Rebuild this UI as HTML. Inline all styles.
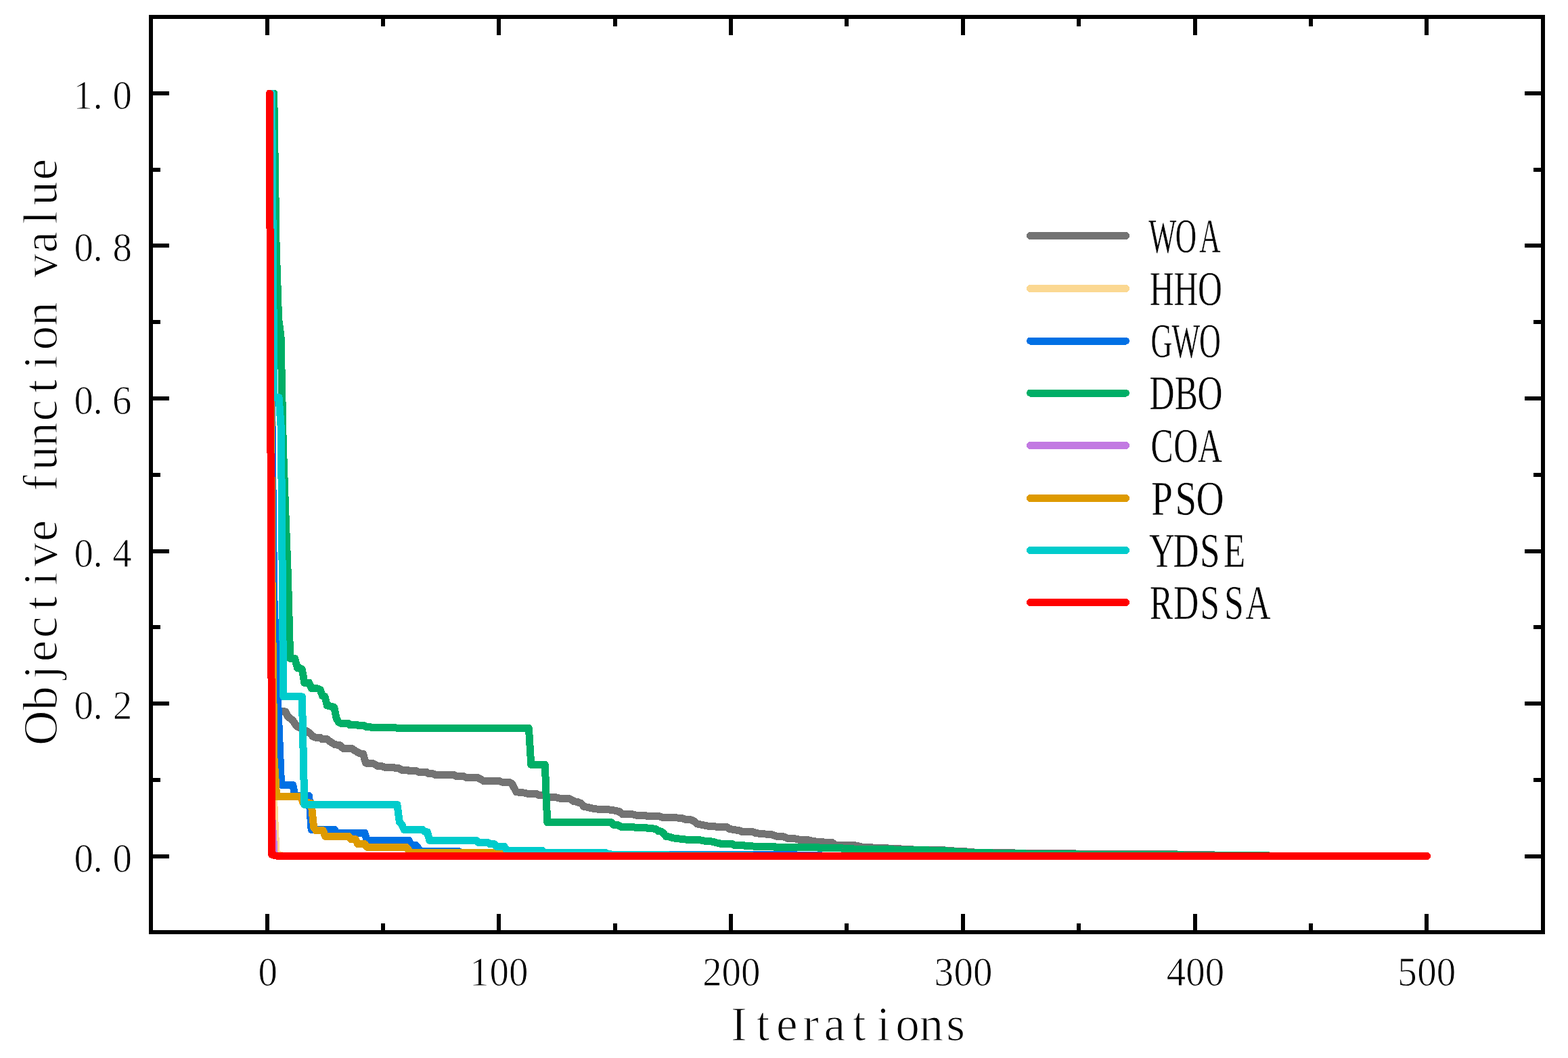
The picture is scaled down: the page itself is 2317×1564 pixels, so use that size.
<!DOCTYPE html>
<html lang="en"><head><meta charset="utf-8"><title>Convergence curves</title>
<style>html,body{margin:0;padding:0;background:#fff;overflow:hidden}svg{display:block}text{font-family:"Liberation Serif","Noto Serif CJK SC",serif;fill:#000}</style></head><body>
<svg width="2317" height="1564" viewBox="0 0 2317 1564">
<rect x="0" y="0" width="2317" height="1564" fill="#fff"/>
<g fill="none" stroke-width="11" stroke-linejoin="round" stroke-linecap="round" shape-rendering="crispEdges">
<polyline points="398.5,141 401.9,1049 405.3,1050.5 415.6,1051.4 421.5,1051.8 425.5,1059.5 429,1062 433.5,1065.9 437,1071.6 440,1074.5 447.1,1077.8 453.9,1080.9 459,1085 462.2,1088.6 466,1090.2 470,1090.6 473.5,1090.6 476,1092.7 483.6,1092.7 487.5,1096.1 494.9,1100.6 501.9,1101.6 507.5,1106.6 519.7,1106.6 527.5,1111.4 532.5,1114 536.5,1114.3 540.5,1128 544,1128.7 551.6,1128.7 559.4,1132.9 564.8,1132.9 569.5,1134.7 582.7,1134.7 584.5,1135.8 589.7,1135.8 594.3,1138.7 603.6,1138.7 605.2,1139.8 615.3,1139.8 620,1141.6 630.8,1141.6 633.2,1143.6 639.4,1143.6 644,1145.6 671.4,1145.8 675.3,1147.9 685.7,1147.9 689.6,1149.7 706.4,1149.7 715.5,1154.9 738.8,1154.9 741.4,1156.1 751.7,1156.1 756.3,1158.1 763,1170.8 775,1172.1 781.5,1173.8 793.2,1173.8 797,1175.7 802.2,1175.7 813.2,1178.8 821.6,1178.8 829.4,1180.7 841.5,1180.7 844,1182 847.5,1184.6 853,1185.4 859,1187.8 862.8,1192.3 869.5,1193.6 876.5,1195.3 886.6,1196.6 899.6,1196.9 907.3,1197.9 915,1199.7 919.6,1203.6 935.8,1204 942.3,1205.7 955.2,1205.9 957.2,1206.8 974.7,1206.8 979.8,1208.5 999.3,1208.8 1008.3,1209.8 1013.5,1211.4 1021.3,1212 1025.2,1213.7 1030.3,1218 1036.8,1219.3 1043.3,1220.6 1049.8,1221.7 1060,1222.1 1074.4,1222.8 1078.2,1225.4 1086,1226.7 1093.8,1228 1096.4,1229.6 1113.2,1229.9 1116.4,1231.4 1124.9,1232.7 1140,1233.5 1147.8,1236.4 1157.5,1236.8 1164.6,1239.6 1175,1239.9 1181.4,1241.3 1193,1241.5 1200.9,1243.5 1212.5,1244.8 1229.3,1245.4 1235.2,1249.6 1263,1249.6 1274.7,1252.3 1287.6,1252.6 1289,1253.6 1312.2,1253.8 1313.5,1254.8 1329,1254.8 1340,1255.8 1396.4,1257 1412,1258.2 1428.7,1259 1440,1260 1500,1261 1590,1262 1740,1263 1876,1265.5 2108.5,1265.5" stroke="#737373"/>
<polyline points="398.5,141 401.9,600 404.7,1185 408,1261.5 411.5,1263 415,1264.5 418.4,1265.5 2108.5,1265.5" stroke="#FBD892"/>
<polyline points="398.5,141 401.3,564 404.7,880 408.5,980 412.1,1075 415.6,1160.4 432.7,1160.4 436.1,1176.6 456.7,1176.6 460.1,1226.5 494.4,1226.5 497.8,1231.4 538.9,1231.4 542.3,1242.4 604,1242.4 607.5,1249.3 614.3,1249.4 617.7,1253.5 621.2,1258.4 678,1258.4 681,1260.9 895,1260.9 899,1263.3 910,1263.9 985,1263.9 988,1263.5 1175,1263.5 1178,1264.3 1212,1264.3 1215,1265.5 2108.5,1265.5" stroke="#0070E4"/>
<polyline points="400.5,138 404.7,138 408.1,364 411.6,471 415,497 418.4,661 421.9,759.5 425.3,848 428.7,973.4 435.6,973.4 439.5,987.4 443,987.4 446.4,989.5 449.8,1009.3 456.7,1009.3 460.1,1017.4 466.5,1017.4 469.8,1018 473.2,1019.5 476.6,1029 480,1029.7 483.4,1043 487,1043.8 490.3,1044.5 493.7,1045.5 497.1,1062 500.6,1068 504,1069.4 515,1069.5 516.5,1071.6 528.5,1071.6 530,1072.7 538,1072.7 542,1074.8 548,1074.8 550,1075.8 585,1075.8 587,1076.5 781.4,1076.5 784.8,1130.5 805.3,1130.5 808.7,1215.6 903.4,1215.6 906.8,1219.5 913.8,1219.8 917.7,1222.5 935.8,1222.5 939.7,1223.7 955.2,1223.7 957.8,1224.7 965.6,1225 970.1,1226 972.7,1228.6 976.6,1229 980.5,1231.8 984.4,1236.8 988.9,1237 993.4,1238.6 999.9,1239.6 1007,1240.3 1017.4,1241.5 1034.2,1241.8 1042,1243.2 1052.4,1244.1 1060.1,1246.1 1066.6,1247.6 1082.1,1247.8 1086,1249.6 1099,1249.7 1102.9,1250.9 1113.2,1251 1115.8,1251.6 1144.5,1251.6 1145.5,1252.6 1208.6,1252.6 1210.6,1253.5 1243.6,1253.5 1245.5,1254.5 1259.8,1254.5 1261.7,1255.4 1318.7,1255.4 1320,1256.4 1370.5,1256.4 1371.8,1257.5 1395.7,1257.5 1404,1258.6 1428.7,1259.7 1430,1260.6 1465,1260.7 1467,1261.7 1514,1261.7 1516,1262.6 1593,1262.6 1595,1263.7 1747,1263.7 1749,1264.7 1874,1264.7 1876,1265.5 2108.5,1265.5" stroke="#00AE66"/>
<polyline points="398.5,141 401.9,1210 405.3,1263.5 412.1,1265.5 2108.5,1265.5" stroke="#C27AE2"/>
<polyline points="398.5,141 401.5,815 404.9,1119 408.7,1177.4 444.5,1177.4 448,1186.8 456.7,1186.8 460.1,1187.5 463.6,1223 467,1227.6 477.3,1227.6 480.7,1236.4 515,1236.4 518.4,1240.7 525.3,1240.7 528.7,1247.6 539,1247.6 542.4,1252.3 600.6,1252.3 604,1257 607.5,1260.5 800,1260.5 810,1265.5 2108.5,1265.5" stroke="#DE9A00"/>
<polyline points="400.5,138 401.6,138 405,587.6 408.7,587.6 412.1,587.6 415.4,634 418.7,1029.8 446.4,1029.8 449.8,1189.5 586.9,1189.5 590.3,1215 593.7,1219 597.2,1226.5 624.5,1226.5 628,1229.5 631.4,1230 634.8,1242.2 703.6,1242.2 706.7,1245.4 720.7,1245.4 723.3,1247.4 730,1247.4 733.6,1251.3 745,1251.3 749.2,1257.3 801.5,1257.3 804.6,1260.5 895,1260.5 899,1262.8 910,1263.3 987,1263.6 990,1264.3 1110,1264.3 1113,1265.5 2108.5,1265.5" stroke="#00CCCC"/>
<polyline points="398.4,138 401.8,1263.2 405.3,1264.6 408.7,1265.1 412.1,1265.5 2108.5,1265.5" stroke="#FF0000"/>
</g>
<g fill="#000" shape-rendering="crispEdges">
<rect x="220" y="22" width="2063" height="6"/>
<rect x="220" y="1375" width="2063" height="6"/>
<rect x="220" y="22" width="6" height="1359"/>
<rect x="2277" y="22" width="6" height="1359"/>
<rect x="392" y="28" width="6" height="24"/>
<rect x="392" y="1351" width="6" height="24"/>
<rect x="563" y="28" width="6" height="11"/>
<rect x="563" y="1365" width="6" height="10"/>
<rect x="734" y="28" width="6" height="24"/>
<rect x="734" y="1351" width="6" height="24"/>
<rect x="906" y="28" width="6" height="11"/>
<rect x="906" y="1365" width="6" height="10"/>
<rect x="1077" y="28" width="6" height="24"/>
<rect x="1077" y="1351" width="6" height="24"/>
<rect x="1248" y="28" width="6" height="11"/>
<rect x="1248" y="1365" width="6" height="10"/>
<rect x="1420" y="28" width="6" height="24"/>
<rect x="1420" y="1351" width="6" height="24"/>
<rect x="1591" y="28" width="6" height="11"/>
<rect x="1591" y="1365" width="6" height="10"/>
<rect x="1763" y="28" width="6" height="24"/>
<rect x="1763" y="1351" width="6" height="24"/>
<rect x="1934" y="28" width="6" height="11"/>
<rect x="1934" y="1365" width="6" height="10"/>
<rect x="2105" y="28" width="6" height="24"/>
<rect x="2105" y="1351" width="6" height="24"/>
<rect x="226" y="1263" width="24" height="6"/>
<rect x="2253" y="1263" width="24" height="6"/>
<rect x="226" y="1150" width="11" height="6"/>
<rect x="2266" y="1150" width="11" height="6"/>
<rect x="226" y="1037" width="24" height="6"/>
<rect x="2253" y="1037" width="24" height="6"/>
<rect x="226" y="924" width="11" height="6"/>
<rect x="2266" y="924" width="11" height="6"/>
<rect x="226" y="812" width="24" height="6"/>
<rect x="2253" y="812" width="24" height="6"/>
<rect x="226" y="699" width="11" height="6"/>
<rect x="2266" y="699" width="11" height="6"/>
<rect x="226" y="586" width="24" height="6"/>
<rect x="2253" y="586" width="24" height="6"/>
<rect x="226" y="473" width="11" height="6"/>
<rect x="2266" y="473" width="11" height="6"/>
<rect x="226" y="360" width="24" height="6"/>
<rect x="2253" y="360" width="24" height="6"/>
<rect x="226" y="248" width="11" height="6"/>
<rect x="2266" y="248" width="11" height="6"/>
<rect x="226" y="135" width="24" height="6"/>
<rect x="2253" y="135" width="24" height="6"/>
</g>
<g fill="none" stroke-width="11" stroke-linecap="round" shape-rendering="crispEdges">
<line x1="1522.5" y1="348.5" x2="1663.5" y2="348.5" stroke="#737373"/>
<line x1="1522.5" y1="426.5" x2="1663.5" y2="426.5" stroke="#FBD892"/>
<line x1="1522.5" y1="504" x2="1663.5" y2="504" stroke="#0070E4"/>
<line x1="1522.5" y1="581" x2="1663.5" y2="581" stroke="#00AE66"/>
<line x1="1522.5" y1="658.5" x2="1663.5" y2="658.5" stroke="#C27AE2"/>
<line x1="1522.5" y1="736.5" x2="1663.5" y2="736.5" stroke="#DE9A00"/>
<line x1="1522.5" y1="813.5" x2="1663.5" y2="813.5" stroke="#00CCCC"/>
<line x1="1522.5" y1="890.5" x2="1663.5" y2="890.5" stroke="#FF0000"/>
</g>
<g>
<text transform="translate(109.4,1288.6) scale(1,1.065)" x="0 28 57" y="0" font-size="57" stroke="#fff" stroke-width="0.9" vector-effect="non-scaling-stroke">0.0</text>
<text transform="translate(109.4,1062.6) scale(1,1.065)" x="0 28 57.3" y="0" font-size="57" stroke="#fff" stroke-width="0.9" vector-effect="non-scaling-stroke">0.2</text>
<text transform="translate(109.4,837.6) scale(1,1.065)" x="0 28 56.9" y="0" font-size="57" stroke="#fff" stroke-width="0.9" vector-effect="non-scaling-stroke">0.4</text>
<text transform="translate(109.4,611.6) scale(1,1.065)" x="0 28 56.6" y="0" font-size="57" stroke="#fff" stroke-width="0.9" vector-effect="non-scaling-stroke">0.6</text>
<text transform="translate(109.4,385.6) scale(1,1.065)" x="0 28 57" y="0" font-size="57" stroke="#fff" stroke-width="0.9" vector-effect="non-scaling-stroke">0.8</text>
<text transform="translate(108.6,160.6) scale(1,1.065)" x="0 28.8 57.8" y="0" font-size="57" stroke="#fff" stroke-width="0.9" vector-effect="non-scaling-stroke">1.0</text>
<text transform="translate(381.4,1457.1) scale(1,1.065)" x="0" y="0" font-size="57" stroke="#fff" stroke-width="0.9" vector-effect="non-scaling-stroke">0</text>
<text transform="translate(694.1,1457.1) scale(1,1.065)" x="0 29.3 57.8" y="0" font-size="57" stroke="#fff" stroke-width="0.9" vector-effect="non-scaling-stroke">100</text>
<text transform="translate(1038.2,1457.1) scale(1,1.065)" x="0 28.2 56.7" y="0" font-size="57" stroke="#fff" stroke-width="0.9" vector-effect="non-scaling-stroke">200</text>
<text transform="translate(1380.6,1457.1) scale(1,1.065)" x="0 28.8 57.3" y="0" font-size="57" stroke="#fff" stroke-width="0.9" vector-effect="non-scaling-stroke">300</text>
<text transform="translate(1723.7,1457.1) scale(1,1.065)" x="0 28.6 57.1" y="0" font-size="57" stroke="#fff" stroke-width="0.9" vector-effect="non-scaling-stroke">400</text>
<text transform="translate(2065.3,1457.1) scale(1,1.065)" x="0 29 57.5" y="0" font-size="57" stroke="#fff" stroke-width="0.9" vector-effect="non-scaling-stroke">500</text>
<text transform="translate(1079.9,1538) scale(1,1)" x="0 37.5 67.1 106.4 137.7 179.9 215.5 243.3 278.6 318.3" y="0" font-size="71.2" stroke="#fff" stroke-width="1.2" vector-effect="non-scaling-stroke">Iterations</text>
<text transform="translate(84,1101.9) rotate(-90) scale(1,1)" x="0 51.9 98.1 123.6 159 200.7 236.3 264.1 301.6 344.2 375.8 406.6 441.8 479.4 521.1 556.7 584.5 619.8 664.6 691.3 728.1 770.4 798.2 835.6" y="0" font-size="71.2" stroke="#fff" stroke-width="1.2" vector-effect="non-scaling-stroke">Objective function value</text>
<text transform="translate(1697.3,372.7) scale(0.61,1)" x="0 64.6 122.9" y="0" font-size="71.2" stroke="#fff" stroke-width="0.4" vector-effect="non-scaling-stroke">WOA</text>
<text transform="translate(1698.8,450.7) scale(0.7,1)" x="0 50.9 101.7" y="0" font-size="71.2" stroke="#fff" stroke-width="0.4" vector-effect="non-scaling-stroke">HHO</text>
<text transform="translate(1700.6,528.2) scale(0.62,1)" x="0 49.9 115.2" y="0" font-size="71.2" stroke="#fff" stroke-width="0.4" vector-effect="non-scaling-stroke">GWO</text>
<text transform="translate(1698.6,605.2) scale(0.72,1)" x="0 51.7 98.5" y="0" font-size="71.2" stroke="#fff" stroke-width="0.4" vector-effect="non-scaling-stroke">DBO</text>
<text transform="translate(1700.5,682.7) scale(0.7,1)" x="0 48.4 99.2" y="0" font-size="71.2" stroke="#fff" stroke-width="0.4" vector-effect="non-scaling-stroke">COA</text>
<text transform="translate(1701.3,760.7) scale(0.8,1)" x="0 43.9 82.7" y="0" font-size="71.2" stroke="#fff" stroke-width="0.4" vector-effect="non-scaling-stroke">PSO</text>
<text transform="translate(1698.1,837.7) scale(0.74,1)" x="0 48 101.4 148.5" y="0" font-size="71.2" stroke="#fff" stroke-width="0.4" vector-effect="non-scaling-stroke">YDSE</text>
<text transform="translate(1699,914.7) scale(0.72,1)" x="0 48.9 103.6 153.1 196.7" y="0" font-size="71.2" stroke="#fff" stroke-width="0.4" vector-effect="non-scaling-stroke">RDSSA</text>
</g>
</svg></body></html>
